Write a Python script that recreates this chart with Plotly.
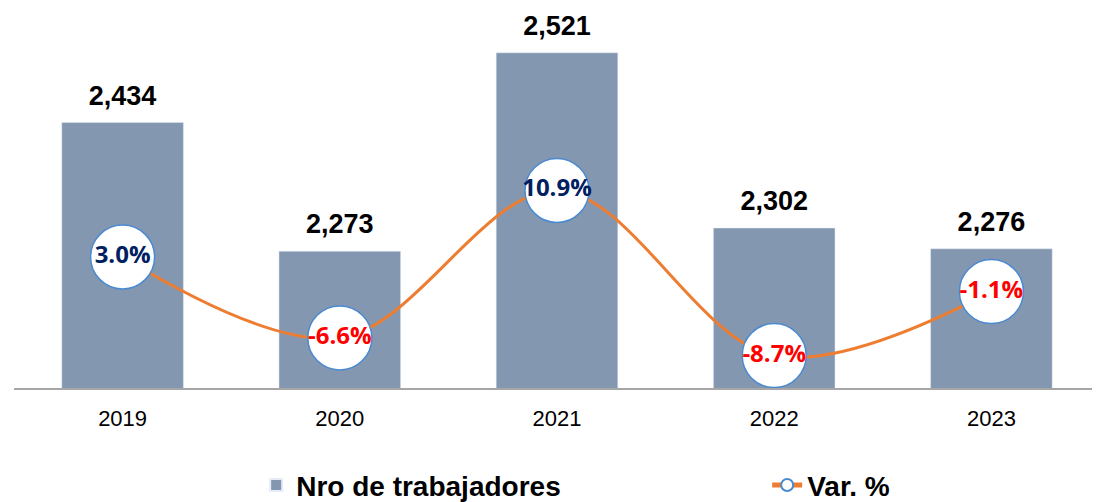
import plotly.graph_objects as go

years = ["2019", "2020", "2021", "2022", "2023"]
workers = [2434, 2273, 2521, 2302, 2276]
var_pct = [3.0, -6.6, 10.9, -8.7, -1.1]
worker_labels = ["2,434", "2,273", "2,521", "2,302", "2,276"]
var_labels = ["3.0%", "-6.6%", "10.9%", "-8.7%", "-1.1%"]
var_colors = ["#002060" if v >= 0 else "#FF0000" for v in var_pct]

fig = go.Figure()
fig.add_trace(go.Bar(
    x=years, y=workers, name="Nro de trabajadores",
    marker=dict(color="#8497B0"),
))
fig.add_trace(go.Scatter(
    x=years, y=workers, mode="markers+text", showlegend=False, hoverinfo="skip",
    marker=dict(size=16, color="rgba(0,0,0,0)"),
    text=worker_labels, textposition="top center", cliponaxis=False,
    textfont=dict(family="Arial", size=27, color="black", weight="bold"),
))
fig.add_trace(go.Scatter(
    x=years, y=var_pct, name="Var. %", yaxis="y2",
    mode="lines+markers+text",
    line=dict(color="#ED7D31", width=3, shape="spline", smoothing=1.0),
    marker=dict(size=64, color="white", line=dict(color="#4A8AD0", width=1.5)),
    text=var_labels, textposition="middle center",
    textfont=dict(family="Open Sans", size=24, color=var_colors, weight="bold"),
    cliponaxis=False,
))

fig.update_layout(
    width=1092, height=494,
    margin=dict(l=6, r=0, t=14, b=114, autoexpand=False),
    plot_bgcolor="white", paper_bgcolor="white",
    bargap=0.44,
    showlegend=True,
    legend=dict(orientation="h", x=0.223, xanchor="left", y=-0.266, yanchor="middle",
                font=dict(family="Arial", size=28, color="black", weight="bold"),
                entrywidth=466, itemsizing="constant"),
    xaxis=dict(range=[-0.5, 4.5], showline=True, linecolor="#A6A6A6", linewidth=2, ticks="",
               ticklabelstandoff=10,
               tickfont=dict(family="Arial", size=22, color="black"), showgrid=False),
    yaxis=dict(range=[2102, 2559.5], visible=False, showgrid=False),
    yaxis2=dict(range=[-12.55, 30.9], overlaying="y", visible=False, showgrid=False),
)

fig.write_html("out.html")
